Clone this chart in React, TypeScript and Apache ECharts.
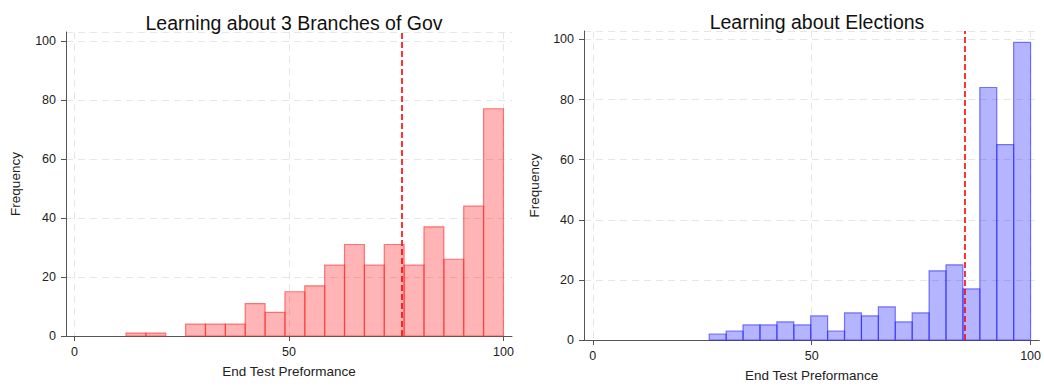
import React, { useEffect, useRef } from "react";
import * as echarts from "echarts";

// Histogram of end-test scores, 19 equal-width bins per panel
const govTitle = "Learning about 3 Branches of Gov";
const govBinStart = 12;
const govBinWidth = 88 / 19;
const govCounts = [1, 1, 0, 4, 4, 4, 11, 8, 15, 17, 24, 31, 24, 31, 24, 37, 26, 44, 77];
const govMean = 76.4;

const elecTitle = "Learning about Elections";
const elecBinStart = 26.6;
const elecBinWidth = 73.4 / 19;
const elecCounts = [2, 3, 5, 5, 6, 5, 8, 3, 9, 8, 11, 6, 9, 23, 25, 17, 84, 65, 99];
const elecMean = 84.9;

const xTicks = [0, 50, 100];
const xName = "End Test Preformance";
const yName = "Frequency";

const FONT = "'Liberation Sans', Arial, sans-serif";

function binRows(start: number, width: number, counts: number[]) {
  return counts.map((c, i) => [start + i * width, start + (i + 1) * width, c]);
}

const gridLine = { show: true, lineStyle: { color: "#e6e6e6", type: [7, 5] as any, width: 1 } };
const axisLineStyle = { show: true, onZero: false, lineStyle: { color: "#555", width: 1 } };

function xAxisFor(gridIndex: number) {
  return {
    type: "value",
    gridIndex,
    min: -2,
    max: 102,
    axisLine: axisLineStyle,
    axisTick: { show: true, length: 5, lineStyle: { color: "#555" }, customValues: xTicks },
    axisLabel: { color: "#222", fontSize: 12.5, fontFamily: FONT, margin: 9, customValues: xTicks },
    splitLine: gridLine,
    name: xName,
    nameLocation: "middle",
    nameGap: 28,
    nameTextStyle: { color: "#222", fontSize: 13.5, fontFamily: FONT },
  };
}

function yAxisFor(gridIndex: number, max: number, gap: number) {
  return {
    type: "value",
    gridIndex,
    min: 0,
    max,
    interval: 20,
    axisLine: axisLineStyle,
    axisTick: { show: true, length: 5, lineStyle: { color: "#555" } },
    axisLabel: { color: "#222", fontSize: 12.5, fontFamily: FONT, margin: 10 },
    splitLine: gridLine,
    name: yName,
    nameLocation: "middle",
    nameGap: gap,
    nameTextStyle: { color: "#222", fontSize: 13.5, fontFamily: FONT },
  };
}

function histSeries(idx: number, rows: number[][], fill: string, stroke: string, mean: number) {
  return {
    type: "custom",
    xAxisIndex: idx,
    yAxisIndex: idx,
    data: rows,
    encode: { x: [0, 1], y: 2 },
    renderItem: (params: any, api: any) => {
      const count = api.value(2);
      if (!count) return null;
      const p0 = api.coord([api.value(0), count]);
      const p1 = api.coord([api.value(1), 0]);
      return {
        type: "rect",
        shape: { x: p0[0], y: p0[1], width: p1[0] - p0[0], height: p1[1] - p0[1] },
        style: { fill, stroke, lineWidth: 1.2 },
      };
    },
    markLine: {
      silent: true,
      symbol: "none",
      label: { show: false },
      lineStyle: { color: "#ff0000", type: [6, 3], width: 1.6 },
      data: [{ xAxis: mean }],
    },
  };
}

export default function App() {
  const ref = useRef<HTMLDivElement>(null);

  useEffect(() => {
    if (!ref.current) return;
    const chart = echarts.init(ref.current, null, { renderer: "svg" });
    chart.setOption({
      animation: false,
      backgroundColor: "#ffffff",
      title: [
        {
          text: govTitle,
          left: 289,
          top: 8,
          textAlign: "center",
          textStyle: { color: "#111", fontSize: 19.5, fontWeight: "normal", fontFamily: FONT },
        },
        {
          text: elecTitle,
          left: 812,
          top: 7,
          textAlign: "center",
          textStyle: { color: "#111", fontSize: 19.5, fontWeight: "normal", fontFamily: FONT },
        },
      ],
      grid: [
        { left: 66, top: 32, width: 446, height: 304 },
        { left: 584, top: 31, width: 456, height: 309 },
      ],
      xAxis: [xAxisFor(0), xAxisFor(1)],
      yAxis: [yAxisFor(0, 103, 44), yAxisFor(1, 102.8, 43)],
      series: [
        histSeries(0, binRows(govBinStart, govBinWidth, govCounts), "rgba(255,0,0,0.29)", "rgba(255,40,40,0.6)", govMean),
        histSeries(1, binRows(elecBinStart, elecBinWidth, elecCounts), "rgba(0,0,255,0.29)", "rgba(40,40,255,0.6)", elecMean),
      ],
    });
    return () => chart.dispose();
  }, []);

  return (
    <div
      ref={ref}
      style={{ position: "fixed", left: 0, top: 0, width: 1044, height: 388 }}
    />
  );
}
